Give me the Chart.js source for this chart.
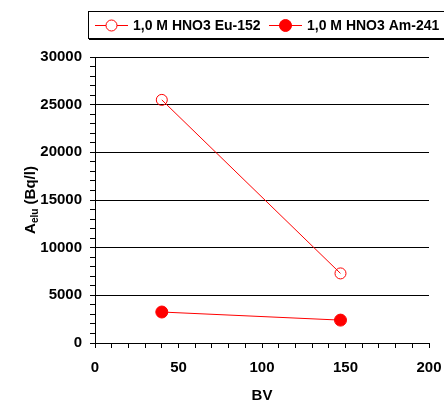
<!DOCTYPE html>
<html>
<head>
<meta charset="utf-8">
<script src="https://cdn.jsdelivr.net/npm/chart.js@4/dist/chart.umd.min.js"></script>
<style>
  html, body { margin: 0; padding: 0; background: #fff; }
  #wrap { width: 444px; height: 403px; }
</style>
</head>
<body>
<div id="wrap"><canvas id="chart" width="444" height="403"></canvas></div>
<script>
// values
const bvValues = [40, 147];
const euValues = [25500, 7300];
const amValues = [3250, 2400];
const seriesLabels = ['1,0 M HNO3 Eu-152', '1,0 M HNO3 Am-241'];

const RED = '#ff0000';
const FONT = '"Liberation Sans", Arial, sans-serif';

const toPoints = (xs, ys) => xs.map((x, i) => ({ x, y: ys[i] }));

// draws the boxed legend and the two axis titles
const decor = {
    id: 'decor',
    afterDraw(chart) {
        const c = chart.ctx;
        const area = chart.chartArea;
        c.save();

        // legend box with a little shadow under it
        c.fillStyle = '#000';
        c.fillRect(89, 38, 360, 2);
        c.fillStyle = '#fff';
        c.fillRect(88, 11, 360, 27);
        c.strokeStyle = '#000';
        c.lineWidth = 1;
        c.strokeRect(88.5, 11.5, 360, 27);

        const items = [{ x: 95, tx: 133 }, { x: 269, tx: 307 }];
        chart.data.datasets.forEach((ds, i) => {
            const it = items[i];
            const y = 25;
            c.strokeStyle = ds.borderColor;
            c.lineWidth = 1;
            c.beginPath();
            c.moveTo(it.x, y + 0.5);
            c.lineTo(it.x + 33, y + 0.5);
            c.stroke();
            c.beginPath();
            c.arc(it.x + 16.5, y + 0.5, ds.pointRadius, 0, Math.PI * 2);
            c.fillStyle = ds.pointBackgroundColor === 'transparent' ? '#fff' : ds.pointBackgroundColor;
            c.fill();
            c.stroke();
            c.fillStyle = '#000';
            c.font = 'bold 14px ' + FONT;
            c.textBaseline = 'middle';
            c.textAlign = 'left';
            c.fillText(ds.label, it.tx, y + 1);
        });

        // x title
        c.fillStyle = '#000';
        c.font = 'bold 15px ' + FONT;
        c.textAlign = 'center';
        c.textBaseline = 'middle';
        c.fillText('BV', (area.left + area.right) / 2, 396);

        // y title with subscript
        c.translate(30, (area.top + area.bottom) / 2);
        c.rotate(-Math.PI / 2);
        const big = 'bold 15px ' + FONT, small = 'bold 10px ' + FONT;
        c.font = big; const wA = c.measureText('A').width;
        c.font = small; const wSub = c.measureText('elu').width;
        c.font = big; const wRest = c.measureText(' (Bq/l)').width;
        let x0 = -(wA + wSub + wRest) / 2;
        c.textAlign = 'left';
        c.textBaseline = 'alphabetic';
        c.font = big; c.fillText('A', x0, 5);
        c.font = small; c.fillText('elu', x0 + wA, 8);
        c.font = big; c.fillText(' (Bq/l)', x0 + wA + wSub, 5);
        c.restore();
    }
};

new Chart(document.getElementById('chart'), {
    type: 'scatter',
    data: {
        datasets: [
            {
                label: seriesLabels[0],
                data: toPoints(bvValues, euValues),
                showLine: true,
                borderColor: RED, borderWidth: 1,
                pointRadius: 5.5, pointBorderWidth: 1,
                pointBorderColor: RED, pointBackgroundColor: 'transparent'
            },
            {
                label: seriesLabels[1],
                data: toPoints(bvValues, amValues),
                showLine: true,
                borderColor: RED, borderWidth: 1,
                pointRadius: 6, pointBorderWidth: 1,
                pointBorderColor: RED, pointBackgroundColor: RED
            }
        ]
    },
    options: {
        responsive: false,
        animation: false,
        layout: { padding: { top: 57, right: 15, left: 0, bottom: 0 } },
        plugins: { legend: { display: false }, tooltip: { enabled: false } },
        scales: {
            x: {
                type: 'linear', min: 0, max: 200,
                afterFit: (s) => { s.height = 60; s.paddingRight = 0; s.paddingLeft = 0; },
                border: { color: '#000', width: 1 },
                grid: { drawOnChartArea: false, color: '#000', tickLength: 5 },
                ticks: {
                    stepSize: 10, autoSkip: false, maxRotation: 0, padding: 11,
                    color: '#000', font: { family: FONT, size: 15, weight: 'bold' },
                    callback: (v) => (v % 50 === 0 ? v : '')
                }
            },
            y: {
                min: 0, max: 30000,
                afterFit: (s) => { s.width = 95; },
                border: { color: '#000', width: 1 },
                grid: {
                    color: (ctx) => (ctx.tick && ctx.tick.value % 5000 === 0 ? '#000' : 'rgba(0,0,0,0)'),
                    tickColor: '#000', tickLength: 5
                },
                ticks: {
                    stepSize: 1000, autoSkip: false, padding: 8,
                    color: '#000', font: { family: FONT, size: 15, weight: 'bold' },
                    callback: (v) => (v % 5000 === 0 ? v : '')
                }
            }
        }
    },
    plugins: [decor]
});
</script>
</body>
</html>
